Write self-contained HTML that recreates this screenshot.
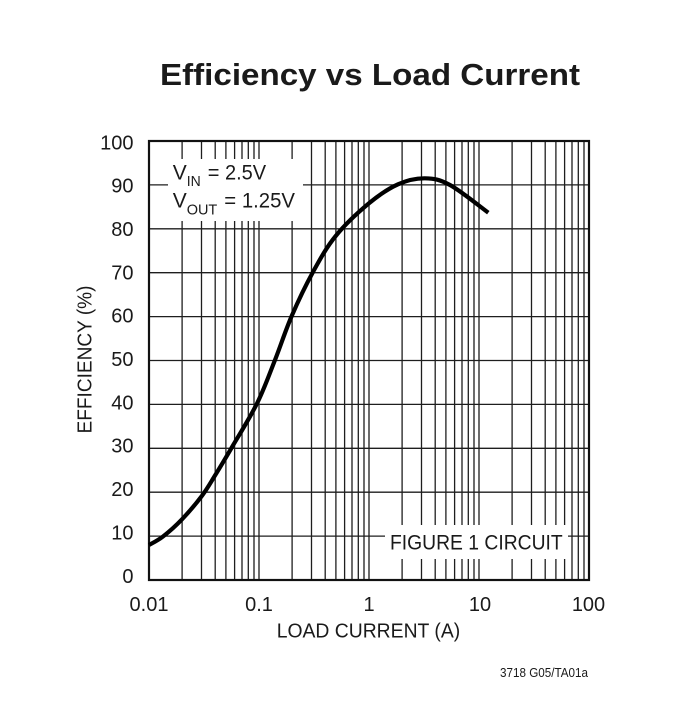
<!DOCTYPE html>
<html>
<head>
<meta charset="utf-8">
<style>
  html,body{margin:0;padding:0;background:#fff;}
  svg{display:block;}
  text{font-family:"Liberation Sans", Arial, sans-serif; fill:#1a1a1a;}
</style>
</head>
<body>
<svg width="692" height="707" viewBox="0 0 692 707" xmlns="http://www.w3.org/2000/svg">
  <rect x="0" y="0" width="692" height="707" fill="#fff"/>
  <text x="160" y="85" font-size="31" font-weight="bold" textLength="420" lengthAdjust="spacingAndGlyphs">Efficiency vs Load Current</text>
  <g stroke="#1e1e1e" stroke-width="1.3" fill="none">
    <line x1="149" y1="536.1" x2="589" y2="536.1"/>
    <line x1="149" y1="492.2" x2="589" y2="492.2"/>
    <line x1="149" y1="448.3" x2="589" y2="448.3"/>
    <line x1="149" y1="404.4" x2="589" y2="404.4"/>
    <line x1="149" y1="360.5" x2="589" y2="360.5"/>
    <line x1="149" y1="316.6" x2="589" y2="316.6"/>
    <line x1="149" y1="272.7" x2="589" y2="272.7"/>
    <line x1="149" y1="228.8" x2="589" y2="228.8"/>
    <line x1="149" y1="184.9" x2="589" y2="184.9"/>
    <line x1="182.1" y1="141" x2="182.1" y2="580"/>
    <line x1="201.5" y1="141" x2="201.5" y2="580"/>
    <line x1="215.2" y1="141" x2="215.2" y2="580"/>
    <line x1="225.9" y1="141" x2="225.9" y2="580"/>
    <line x1="234.6" y1="141" x2="234.6" y2="580"/>
    <line x1="242.0" y1="141" x2="242.0" y2="580"/>
    <line x1="248.3" y1="141" x2="248.3" y2="580"/>
    <line x1="254.0" y1="141" x2="254.0" y2="580"/>
    <line x1="259" y1="141" x2="259" y2="580"/>
    <line x1="292.1" y1="141" x2="292.1" y2="580"/>
    <line x1="311.5" y1="141" x2="311.5" y2="580"/>
    <line x1="325.2" y1="141" x2="325.2" y2="580"/>
    <line x1="335.9" y1="141" x2="335.9" y2="580"/>
    <line x1="344.6" y1="141" x2="344.6" y2="580"/>
    <line x1="352.0" y1="141" x2="352.0" y2="580"/>
    <line x1="358.3" y1="141" x2="358.3" y2="580"/>
    <line x1="364.0" y1="141" x2="364.0" y2="580"/>
    <line x1="369" y1="141" x2="369" y2="580"/>
    <line x1="402.1" y1="141" x2="402.1" y2="580"/>
    <line x1="421.5" y1="141" x2="421.5" y2="580"/>
    <line x1="435.2" y1="141" x2="435.2" y2="580"/>
    <line x1="445.9" y1="141" x2="445.9" y2="580"/>
    <line x1="454.6" y1="141" x2="454.6" y2="580"/>
    <line x1="462.0" y1="141" x2="462.0" y2="580"/>
    <line x1="468.3" y1="141" x2="468.3" y2="580"/>
    <line x1="474.0" y1="141" x2="474.0" y2="580"/>
    <line x1="479" y1="141" x2="479" y2="580"/>
    <line x1="512.1" y1="141" x2="512.1" y2="580"/>
    <line x1="531.5" y1="141" x2="531.5" y2="580"/>
    <line x1="545.2" y1="141" x2="545.2" y2="580"/>
    <line x1="555.9" y1="141" x2="555.9" y2="580"/>
    <line x1="564.6" y1="141" x2="564.6" y2="580"/>
    <line x1="572.0" y1="141" x2="572.0" y2="580"/>
    <line x1="578.3" y1="141" x2="578.3" y2="580"/>
    <line x1="584.0" y1="141" x2="584.0" y2="580"/>
  </g>
  <rect x="168" y="159" width="135" height="62" fill="#fff"/>
  <rect x="385" y="525" width="183" height="34" fill="#fff"/>
  <rect x="149" y="141" width="440" height="439" fill="none" stroke="#111" stroke-width="2.2"/>
  <path id="curve" fill="none" stroke="#000" stroke-width="4.2" stroke-linejoin="round" stroke-linecap="butt"
    d="M149,545 L163,536.5 L182,519.3 L202,495.7 L215.3,475 L231.3,448.3 L257,403.5 L275,360 L291.7,316 L313,272 L335.7,236 L369,203.3 L398,184.3 L425,178.3 L450,185 L488.3,212.7"/>
  <text x="172.7" y="179.3" font-size="21">V</text>
  <text x="186.7" y="186" font-size="15" textLength="14" lengthAdjust="spacingAndGlyphs">IN</text>
  <text x="207.7" y="179.3" font-size="21" textLength="58.5" lengthAdjust="spacingAndGlyphs">= 2.5V</text>
  <text x="172.7" y="207.3" font-size="21">V</text>
  <text x="186.7" y="214.3" font-size="15" textLength="30.6" lengthAdjust="spacingAndGlyphs">OUT</text>
  <text x="224.3" y="207.3" font-size="21" textLength="70.7" lengthAdjust="spacingAndGlyphs">= 1.25V</text>
  <text x="390" y="549.3" font-size="21.5" textLength="172.7" lengthAdjust="spacingAndGlyphs">FIGURE 1 CIRCUIT</text>
  <g font-size="20" text-anchor="end">
    <text x="133.5" y="149.3">100</text>
    <text x="133.5" y="192.6">90</text>
    <text x="133.5" y="236">80</text>
    <text x="133.5" y="279.3">70</text>
    <text x="133.5" y="322.7">60</text>
    <text x="133.5" y="366">50</text>
    <text x="133.5" y="409.4">40</text>
    <text x="133.5" y="452.7">30</text>
    <text x="133.5" y="496.1">20</text>
    <text x="133.5" y="539.4">10</text>
    <text x="133.5" y="582.8">0</text>
  </g>
  <g font-size="20" text-anchor="middle">
    <text x="149" y="611">0.01</text>
    <text x="259" y="611">0.1</text>
    <text x="369" y="611">1</text>
    <text x="480" y="611">10</text>
    <text x="588.5" y="611">100</text>
  </g>
  <text x="276.7" y="637.3" font-size="20" textLength="183.5" lengthAdjust="spacingAndGlyphs">LOAD CURRENT (A)</text>
  <text transform="translate(91.5,433.5) rotate(-90)" x="0" y="0" font-size="20" textLength="148" lengthAdjust="spacingAndGlyphs">EFFICIENCY (%)</text>
  <text x="500" y="677" font-size="12.5" textLength="88" lengthAdjust="spacingAndGlyphs">3718 G05/TA01a</text>
</svg>
<script>
(function(){
  var pts=[[149,545],[163,536.5],[182,519.3],[202,495.7],[215.3,475],[231.3,448.3],[257,403.5],[275,360],[291.7,316],[313,272],[335.7,236],[369,203.3],[398,184.3],[425,178.3],[450,185],[488.3,212.7]];
  var d="M"+pts[0][0]+","+pts[0][1];
  for(var i=0;i<pts.length-1;i++){
    var p0=pts[i-1]||pts[i],p1=pts[i],p2=pts[i+1],p3=pts[i+2]||p2;
    var c1x=p1[0]+(p2[0]-p0[0])/6,c1y=p1[1]+(p2[1]-p0[1])/6;
    var c2x=p2[0]-(p3[0]-p1[0])/6,c2y=p2[1]-(p3[1]-p1[1])/6;
    d+=" C"+c1x.toFixed(2)+","+c1y.toFixed(2)+" "+c2x.toFixed(2)+","+c2y.toFixed(2)+" "+p2[0]+","+p2[1];
  }
  document.getElementById("curve").setAttribute("d",d);
})();
</script>
</body>
</html>
